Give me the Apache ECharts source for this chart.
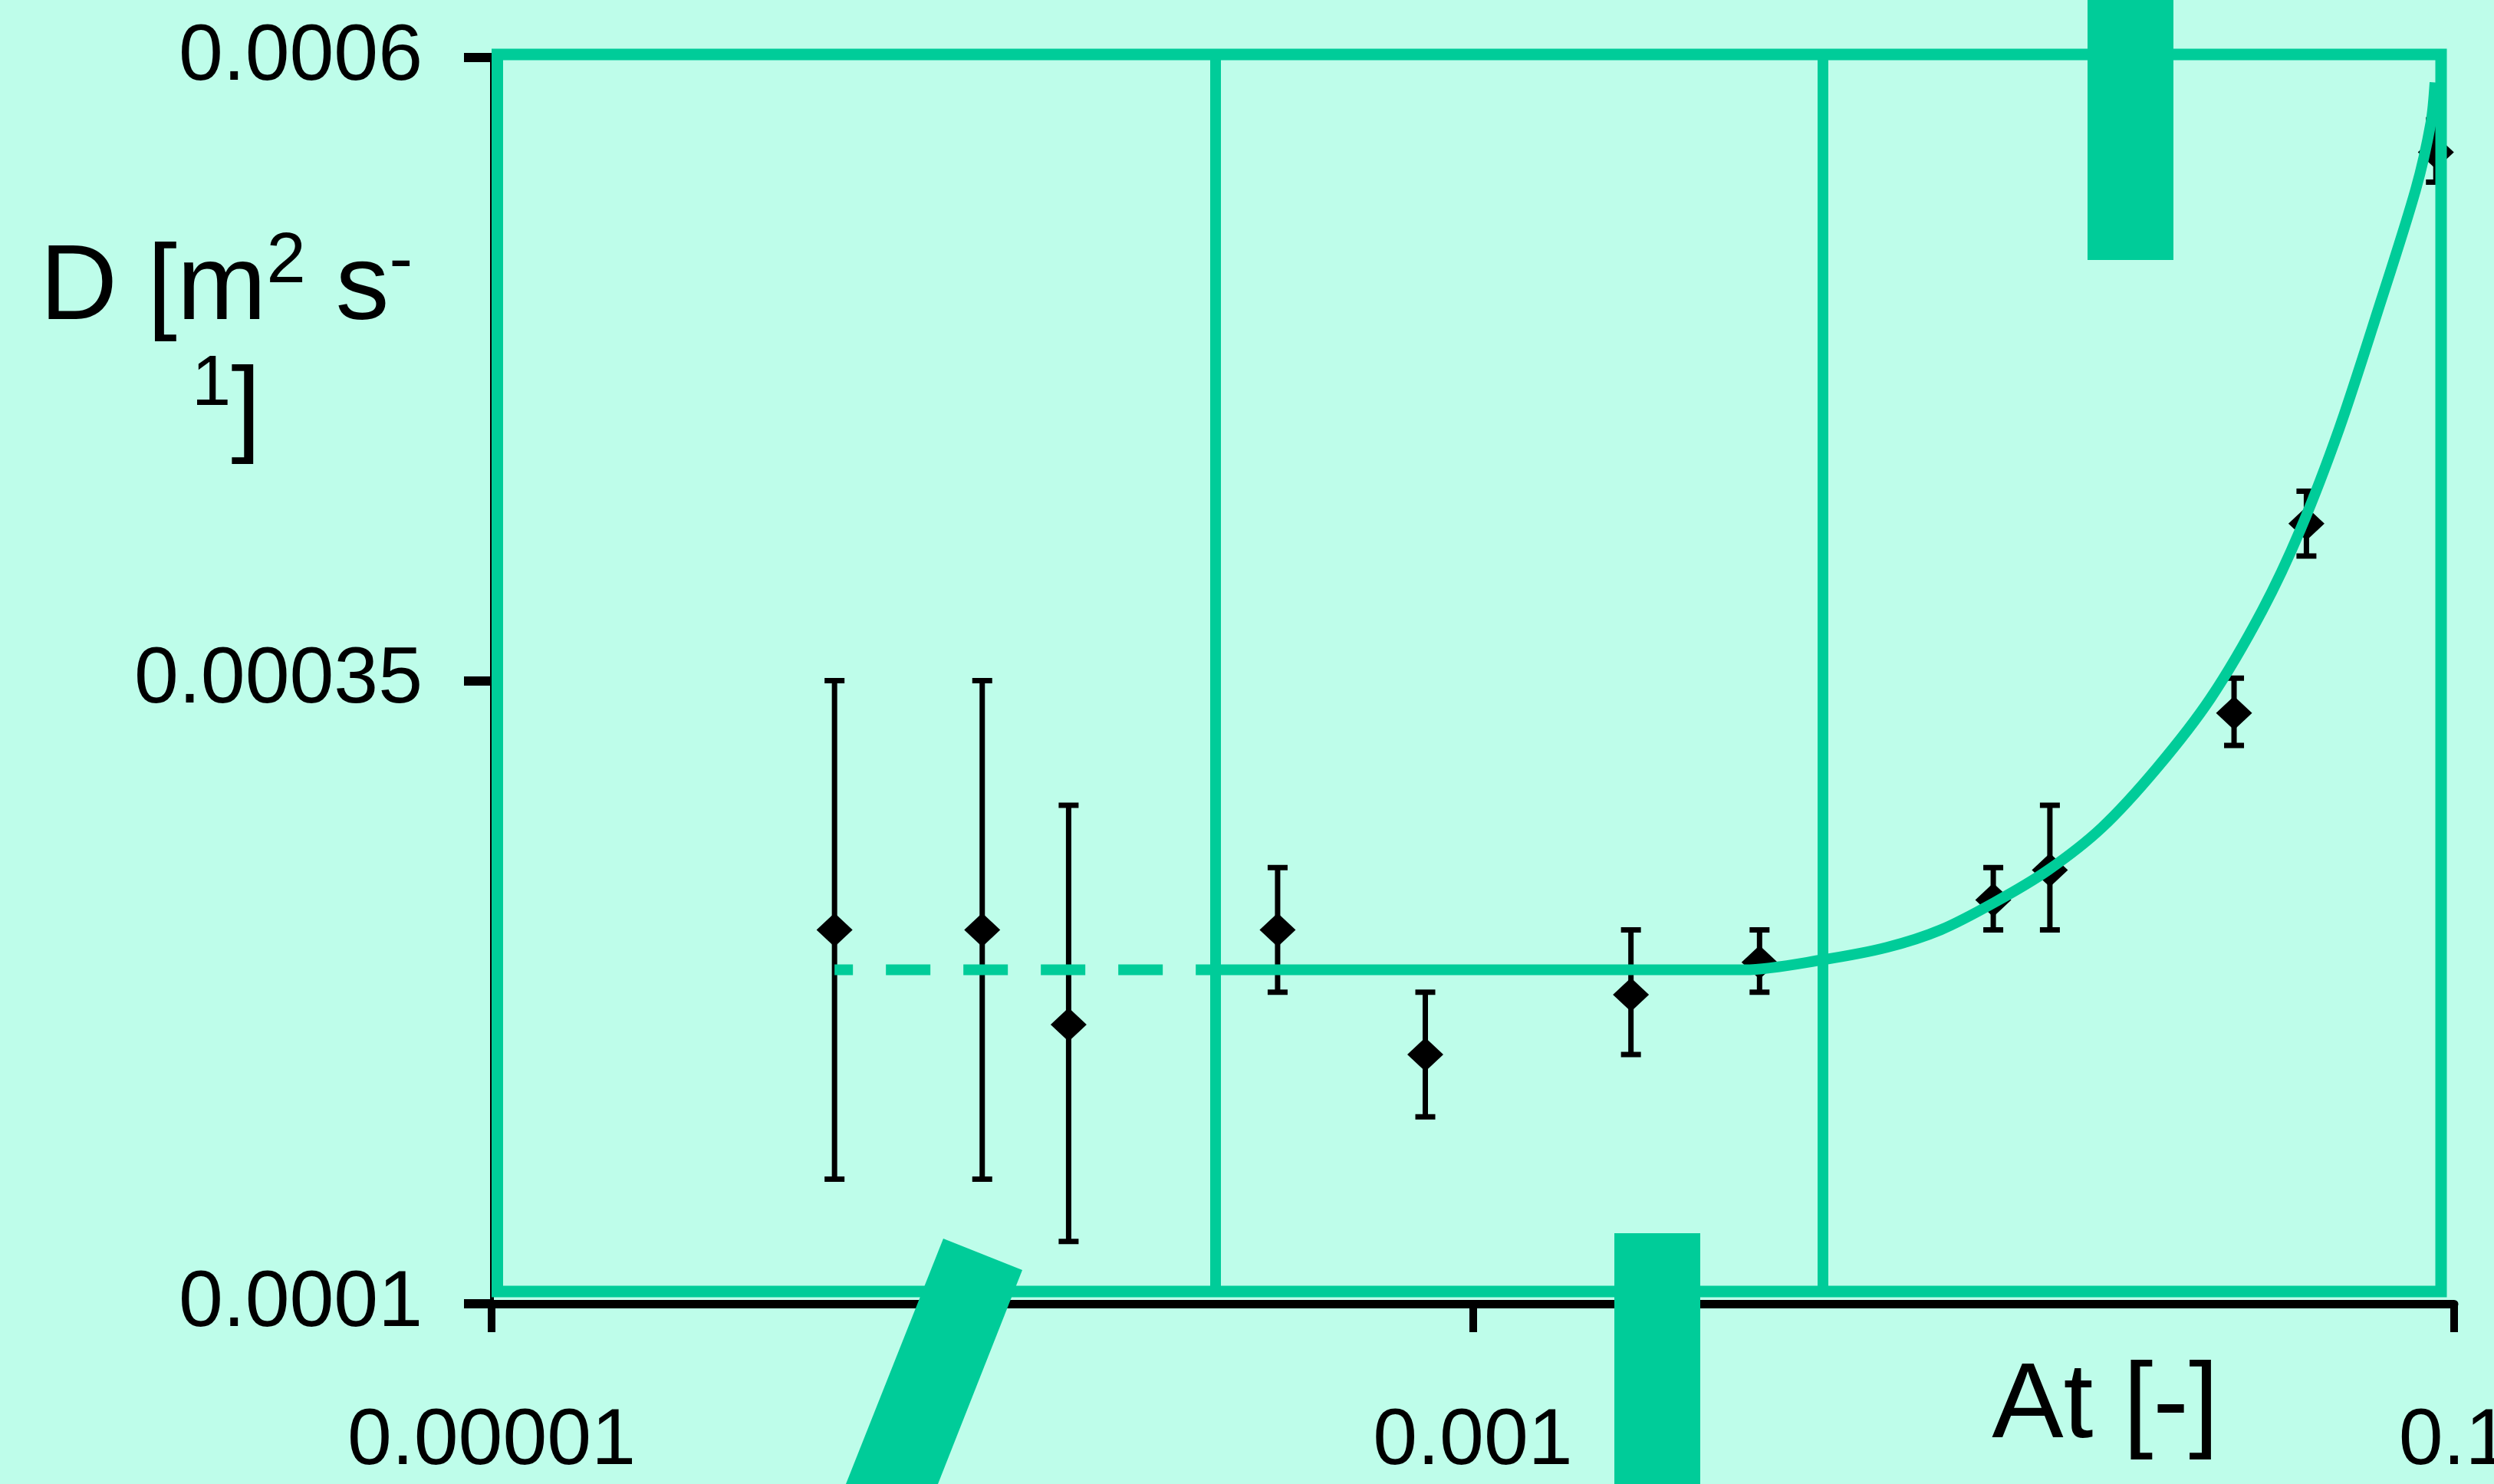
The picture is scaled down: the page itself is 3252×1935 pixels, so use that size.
<!DOCTYPE html>
<html><head><meta charset="utf-8">
<script src="https://cdn.jsdelivr.net/npm/echarts@6/dist/echarts.min.js"></script>
<style>html,body{margin:0;padding:0;background:#BEFDEA;overflow:hidden;} #c{width:3252px;height:1935px;}</style>
</head><body><div id="c"></div><script>
// ---- data ----
const xTickExponents = [-5, -3, -1];
const xTickLabels = ['0.00001', '0.001', '0.1'];
const yTickValues = [0.0001, 0.00035, 0.0006];
const yTickLabels = ['0.0001', '0.00035', '0.0006'];

const atValues = [5e-5, 1e-4, 1.5e-4, 4e-4, 8e-4, 2.1e-3, 3.84e-3, 0.0115, 0.015, 0.0356, 0.05, 0.0918];
const dValues  = [0.00025, 0.00025, 0.000212, 0.00025, 0.0002, 0.000224, 0.000237, 0.000262, 0.000274, 0.000337, 0.000413, 0.000562];
const dLow     = [0.00015, 0.00015, 0.000125, 0.000225, 0.000175, 0.0002, 0.000225, 0.00025, 0.00025, 0.000324, 0.0004, 0.00055];
const dHigh    = [0.00035, 0.00035, 0.0003, 0.000275, 0.000225, 0.00025, 0.00025, 0.000275, 0.0003, 0.000351, 0.000426, 0.000575];

const fitAt = [3e-4, 1e-3, 2e-3, 3.584e-3, 5.16e-3, 6.98e-3, 8.98e-3, 0.01156, 0.01488, 0.01914, 0.0248, 0.0319, 0.0406, 0.0487, 0.0583, 0.0698, 0.0835, 0.0897, 0.0914];
const fitD  = [0.000234, 0.000234, 0.000234, 0.000234, 0.000238, 0.000243, 0.00025, 0.000261, 0.000274, 0.000291, 0.000315, 0.000343, 0.000378, 0.000411, 0.000451, 0.000498, 0.000547, 0.000574, 0.00059];

const dashedAt = [5e-5, 3e-4];
const dashedD  = [0.000234, 0.000234];

// ---- styling ----
const GREEN = '#00CC99';
const FONT = 'Liberation Sans';

const chart = echarts.init(document.getElementById('c'), null, {renderer: 'canvas'});

const pts = atValues.map((x, i) => [x, dValues[i]]);
const errs = atValues.map((x, i) => [x, dLow[i], dHigh[i]]);
const fit = fitAt.map((x, i) => [x, fitD[i]]);
const dashed = dashedAt.map((x, i) => [x, dashedD[i]]);

chart.setOption({
  animation: false,
  backgroundColor: '#BEFDEA',
  grid: {left: 641, right: 52, top: 75, bottom: 235, containLabel: false, outerBoundsMode: 'none'},
  xAxis: [
    {type: 'log', logBase: 10, min: 1e-5, max: 0.1, show: false, position: 'top'},
    {type: 'value', min: -5, max: -1, interval: 2, position: 'bottom',
     axisLine: {show: true, onZero: false, lineStyle: {color: '#000', width: 11}},
     axisTick: {show: true, length: 37, lineStyle: {color: '#000', width: 10}},
     axisLabel: {margin: 128, fontSize: 104, fontFamily: FONT, color: '#000', hideOverlap: false,
       formatter: v => { const i = xTickExponents.findIndex(e => Math.abs(e - v) < 1e-9); return i >= 0 ? xTickLabels[i] : ''; }},
     splitLine: {show: false}}
  ],
  yAxis: {
    type: 'value', min: 0.0001, max: 0.0006, interval: 0.00025,
    axisLine: {show: true, onZero: false, lineStyle: {color: '#000', width: 5}},
    axisTick: {show: true, length: 36, lineStyle: {color: '#000', width: 12}},
    axisLabel: {margin: 90, fontSize: 104, fontFamily: FONT, color: '#000',
      formatter: v => { const i = yTickValues.findIndex(t => Math.abs(t - v) < 1e-9); return i >= 0 ? yTickLabels[i] : ''; }},
    splitLine: {show: false}
  },
  series: [
    {
      type: 'custom', xAxisIndex: 0, yAxisIndex: 0, z: 2,
      data: errs,
      encode: {x: 0, y: [1, 2]},
      renderItem: function (params, api) {
        const x = api.value(0), lo = api.value(1), hi = api.value(2);
        const a = api.coord([x, lo]), b = api.coord([x, hi]);
        const c = 13, st = {stroke: '#000', lineWidth: 7};
        return {type: 'group', children: [
          {type: 'line', shape: {x1: a[0], y1: a[1], x2: b[0], y2: b[1]}, style: st},
          {type: 'line', shape: {x1: a[0] - c, y1: a[1], x2: a[0] + c, y2: a[1]}, style: st},
          {type: 'line', shape: {x1: b[0] - c, y1: b[1], x2: b[0] + c, y2: b[1]}, style: st}
        ]};
      }
    },
    {
      type: 'scatter', xAxisIndex: 0, yAxisIndex: 0, z: 3,
      symbol: 'diamond', symbolSize: [47, 44],
      itemStyle: {color: '#000', opacity: 1},
      data: pts
    },
    {
      type: 'line', xAxisIndex: 0, yAxisIndex: 0, z: 4,
      data: dashed, showSymbol: false, symbol: 'none',
      lineStyle: {color: GREEN, width: 14, type: [58, 43], dashOffset: 34, cap: 'butt'}
    },
    {
      type: 'line', xAxisIndex: 0, yAxisIndex: 0, z: 4,
      data: fit, showSymbol: false, symbol: 'none', smooth: 0.3,
      lineStyle: {color: GREEN, width: 14}
    }
  ],
  graphic: [
    {type: 'rect', z: 10, shape: {x: 648.5, y: 71, width: 2534.5, height: 1613},
     style: {fill: 'rgba(0,0,0,0)', stroke: GREEN, lineWidth: 15}},
    {type: 'line', z: 10, shape: {x1: 1585, y1: 71, x2: 1585, y2: 1684}, style: {stroke: GREEN, lineWidth: 14}},
    {type: 'line', z: 10, shape: {x1: 2377, y1: 71, x2: 2377, y2: 1684}, style: {stroke: GREEN, lineWidth: 14}},
    {type: 'rect', z: 20, shape: {x: 2722, y: 0, width: 112, height: 339}, style: {fill: GREEN}},
    {type: 'rect', z: 20, shape: {x: 2105, y: 1608, width: 112, height: 330}, style: {fill: GREEN}},
    {type: 'polygon', z: 20, shape: {points: [[1230, 1615], [1333, 1656], [1223, 1935], [1103, 1935]]}, style: {fill: GREEN}},
    {type: 'text', z: 20, x: 295, y: 457,
     style: {
       text: '{n|D [m}{s|2}{n| s}{s|-}\n{s|1}{n|]}',
       align: 'center', verticalAlign: 'middle', fill: '#000',
       fontFamily: FONT, fontSize: 140,
       rich: {
         n: {fontFamily: FONT, fontSize: 140, lineHeight: 160, fill: '#000'},
         s: {fontFamily: FONT, fontSize: 92, lineHeight: 160, verticalAlign: 'top', fill: '#000'}
       }
     }},
    {type: 'text', z: 20, x: 2745, y: 1835,
     style: {text: 'At [-]', align: 'center', verticalAlign: 'middle', fill: '#000', fontFamily: FONT, fontSize: 140}}
  ]
});
</script></body></html>
